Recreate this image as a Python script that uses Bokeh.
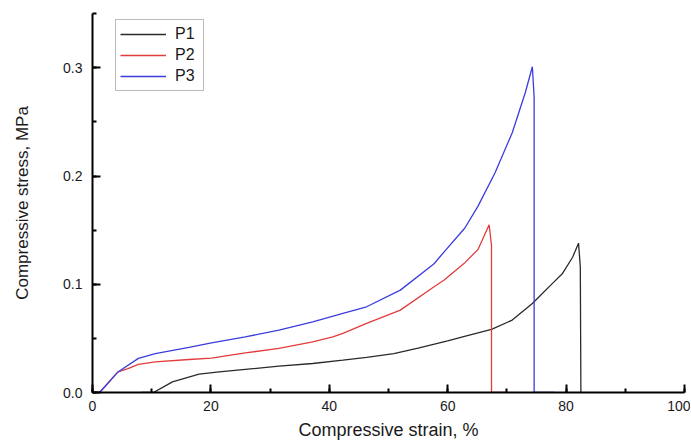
from bokeh.plotting import figure
from bokeh.models import Range1d, SingleIntervalTicker, PrintfTickFormatter
from bokeh.embed import file_html
from bokeh.resources import INLINE

# ---- data ----
p1_strain = [8.2, 10.3, 13.5, 18.0, 21.4, 25.8, 31.5, 37.2, 42.3, 46.3, 50.9, 55.0,
             60.0, 63.0, 67.4, 70.9, 74.3, 77.7, 79.4, 81.1, 82.1, 82.4, 82.5]
p1_stress = [0.0, 0.0, 0.0098, 0.0169, 0.0190, 0.0213, 0.0243, 0.0268, 0.0299, 0.0324, 0.0360, 0.0410,
             0.0477, 0.0520, 0.0583, 0.0669, 0.0823, 0.1008, 0.110, 0.125, 0.138, 0.116, 0.0]

p2_strain = [0.0, 1.2, 4.3, 6.0, 7.75, 10.6, 16.3, 20.1, 25.8, 31.5, 37.2, 40.6, 42.3,
             46.3, 52.0, 57.7, 59.4, 62.9, 65.1, 67.0, 67.4, 67.4, 70.0]
p2_stress = [0.0, 0.0, 0.019, 0.022, 0.0259, 0.0283, 0.0305, 0.0318, 0.0366, 0.0407, 0.0468, 0.0514, 0.0546,
             0.0638, 0.0761, 0.0977, 0.104, 0.120, 0.132, 0.155, 0.136, 0.0, 0.0]

p3_strain = [0.0, 1.2, 4.3, 7.75, 10.6, 16.3, 20.1, 25.8, 31.5, 37.2, 42.3, 46.3, 52.0,
             57.7, 59.4, 62.9, 65.1, 68.0, 70.9, 73.1, 74.3, 74.6, 74.6, 78.0]
p3_stress = [0.0, 0.0, 0.019, 0.0315, 0.036, 0.0416, 0.0459, 0.0514, 0.0576, 0.0653, 0.0731, 0.0792, 0.0946,
             0.119, 0.130, 0.152, 0.172, 0.203, 0.240, 0.277, 0.301, 0.273, 0.0, 0.0]

series = [("P1", p1_strain, p1_stress, "#2a2a2a"),
          ("P2", p2_strain, p2_stress, "#e23c3c"),
          ("P3", p3_strain, p3_stress, "#3c3cdc")]

x_title = "Compressive strain, %"
y_title = "Compressive stress, MPa"

FONT = "Liberation Sans"

p = figure(width=690, height=442,
           x_range=Range1d(0, 100), y_range=Range1d(0, 0.3502),
           output_backend="svg", toolbar_location=None,
           min_border_left=92, min_border_right=6, min_border_top=13, min_border_bottom=44)

for name, xs, ys, col in series:
    p.line(xs, ys, line_color=col, line_width=1.3, legend_label=name)

p.xgrid.visible = False
p.ygrid.visible = False
p.outline_line_color = None
p.background_fill_color = "white"
p.border_fill_color = "white"

p.xaxis.ticker = SingleIntervalTicker(interval=20, num_minor_ticks=2)
p.yaxis.ticker = SingleIntervalTicker(interval=0.1, num_minor_ticks=2)
p.yaxis.formatter = PrintfTickFormatter(format="%.1f")

for ax in (p.xaxis[0], p.yaxis[0]):
    ax.axis_line_width = 2
    ax.axis_line_color = "black"
    ax.major_tick_line_width = 2
    ax.minor_tick_line_width = 2
    ax.major_tick_in = 8
    ax.major_tick_out = 0
    ax.minor_tick_in = 4
    ax.minor_tick_out = 0
    ax.major_label_text_font = FONT
    ax.major_label_text_font_size = "14px"
    ax.major_label_text_color = "#1a1a1a"
    ax.axis_label_text_font = FONT
    ax.axis_label_text_font_style = "normal"
    ax.axis_label_text_color = "#1a1a1a"
    ax.major_label_standoff = 8

p.xaxis.axis_label = x_title
p.yaxis.axis_label = y_title
p.xaxis.axis_label_text_font_size = "18px"
p.yaxis.axis_label_text_font_size = "17px"
p.xaxis.axis_label_standoff = 6
p.yaxis.axis_label_standoff = 28
p.yaxis.major_label_standoff = 10

lg = p.legend[0]
lg.location = (23, 301)
lg.border_line_color = "#7a7a7a"
lg.border_line_width = 1.5
lg.background_fill_alpha = 1.0
lg.padding = 4
lg.spacing = 1
lg.margin = 0
lg.glyph_width = 46
lg.glyph_height = 20
lg.label_height = 20
lg.label_width = 24
lg.label_standoff = 9
lg.label_text_font = FONT
lg.label_text_font_size = "16px"
lg.label_text_color = "#1a1a1a"

open("out.html", "w").write(file_html(p, INLINE))
